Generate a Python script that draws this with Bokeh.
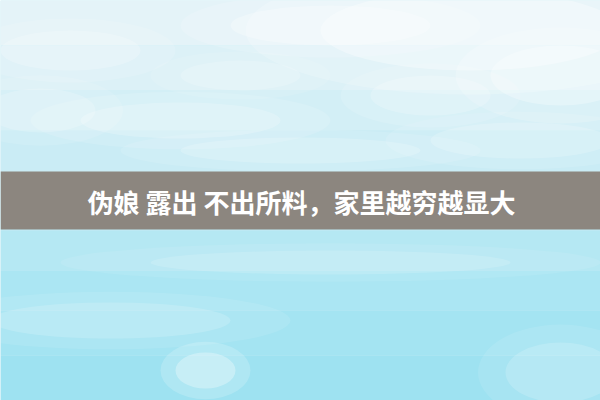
from bokeh.plotting import figure
from bokeh.models import Range1d
from bokeh.core.properties import value
from bokeh.embed import file_html
from bokeh.resources import INLINE

# Background bands (image pixel rows, top to bottom)
band_top = [0, 45, 90, 130, 172, 230, 270, 310, 355]
band_bottom = [45, 90, 130, 172, 230, 270, 310, 355, 400]
band_colors = ["#e4f3f8", "#dcf1f7", "#d3eff6", "#caecf5", "#bfeaf4",
               "#b5e8f3", "#abe6f3", "#a4e4f2", "#9ee2f1"]

# Soft white wisps (drawn twice: wide faint halo + smaller core)
wisp_x = [470, 560, 330, 70, 180, 40, 300, 520, 205, 110, 560, 330, 430, 240]
wisp_y = [30, 75, 25, 50, 120, 110, 150, 140, 370, 320, 372, 262, 95, 75]
wisp_w = [300, 140, 200, 140, 200, 110, 240, 180, 60, 240, 110, 360, 120, 120]
wisp_h = [80, 60, 40, 40, 36, 44, 26, 36, 36, 36, 60, 24, 40, 30]
wisp_a = [0.32, 0.28, 0.25, 0.2, 0.2, 0.18, 0.18, 0.18, 0.3, 0.16, 0.16, 0.14, 0.2, 0.16]

# Banner
banner_top = [171]
banner_bottom = [229]
title_text = ["伪娘 露出 不出所料，家里越穷越显大"]
title_x = [301]
title_y = [201]

p = figure(width=600, height=400, output_backend="svg", toolbar_location=None,
           x_range=Range1d(0, 600), y_range=Range1d(400, 0),
           min_border=0, outline_line_color=None)
p.axis.visible = False
p.grid.visible = False
p.background_fill_color = "#cbedf5"
p.border_fill_color = "#ffffff"

p.quad(left=0, right=600, top=band_top, bottom=band_bottom,
       fill_color=band_colors, line_color=None)
p.ellipse(x=wisp_x, y=wisp_y, width=[w * 1.5 for w in wisp_w],
          height=[h * 1.6 for h in wisp_h],
          fill_color="#ffffff", fill_alpha=[a * 0.6 for a in wisp_a], line_color=None)
p.ellipse(x=wisp_x, y=wisp_y, width=wisp_w, height=wisp_h,
          fill_color="#ffffff", fill_alpha=wisp_a, line_color=None)
p.quad(left=0, right=600, top=banner_top, bottom=banner_bottom,
       fill_color="#8c867f", line_color=None)
p.text(x=title_x, y=title_y, text=title_text,
       text_font=value("Noto Sans CJK SC"), text_font_style="bold",
       text_font_size="26px", text_color="#ffffff",
       text_align="center", text_baseline="middle")

open("out.html", "w").write(file_html(p, INLINE))
